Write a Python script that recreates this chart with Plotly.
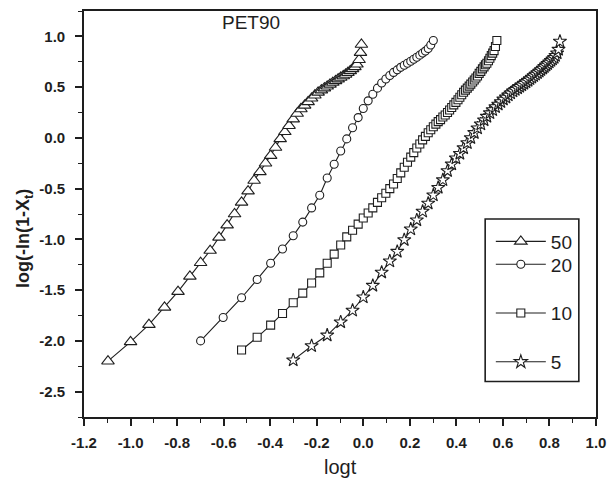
import plotly.graph_objects as go

# ---- data ----
x50 = [-1.097, -1.000, -0.921, -0.854, -0.796, -0.745, -0.699, -0.658, -0.620, -0.585,
       -0.553, -0.523, -0.495, -0.469, -0.444, -0.420, -0.398, -0.377, -0.357, -0.337,
       -0.319, -0.301, -0.284, -0.268, -0.252, -0.237, -0.222, -0.208, -0.194, -0.180,
       -0.167, -0.155, -0.143, -0.131, -0.119, -0.108, -0.097, -0.086, -0.076, -0.066,
       -0.056, -0.046, -0.036, -0.027, -0.018, -0.012, -0.008]
y50 = [-2.20, -2.01, -1.84, -1.67, -1.515, -1.365, -1.23, -1.11, -0.98, -0.86,
       -0.75, -0.635, -0.525, -0.42, -0.335, -0.25, -0.175, -0.095, -0.01, 0.06,
       0.12, 0.185, 0.24, 0.285, 0.32, 0.355, 0.39, 0.42, 0.448, 0.47,
       0.49, 0.508, 0.527, 0.545, 0.562, 0.579, 0.595, 0.61, 0.625, 0.642,
       0.66, 0.68, 0.70, 0.725, 0.77, 0.84, 0.92]

x20 = [-0.699, -0.602, -0.523, -0.456, -0.398, -0.347, -0.301, -0.260, -0.222, -0.187,
       -0.155, -0.125, -0.097, -0.071, -0.046, -0.022, 0.000, 0.021, 0.041, 0.061,
       0.079, 0.097, 0.114, 0.130, 0.146, 0.161, 0.176, 0.190, 0.204, 0.217,
       0.230, 0.243, 0.255, 0.267, 0.279, 0.290, 0.301]
y20 = [-2.00, -1.77, -1.575, -1.395, -1.235, -1.095, -0.965, -0.83, -0.69, -0.565,
       -0.395, -0.26, -0.13, -0.01, 0.10, 0.20, 0.29, 0.365, 0.43, 0.49,
       0.54, 0.58, 0.615, 0.645, 0.67, 0.695, 0.715, 0.735, 0.755, 0.775,
       0.795, 0.815, 0.835, 0.855, 0.88, 0.915, 0.96]

x10 = [-0.523, -0.456, -0.398, -0.347, -0.301, -0.260, -0.222, -0.187, -0.155, -0.125,
       -0.097, -0.071, -0.046, -0.022, 0.000, 0.021, 0.041, 0.061, 0.079, 0.097,
       0.114, 0.130, 0.146, 0.161, 0.176, 0.190, 0.204, 0.217, 0.230, 0.243,
       0.255, 0.267, 0.279, 0.290, 0.301, 0.312, 0.322, 0.332, 0.342, 0.352,
       0.362, 0.371, 0.380, 0.389, 0.398, 0.407, 0.415, 0.423, 0.431, 0.439,
       0.447, 0.455, 0.462, 0.470, 0.477, 0.484, 0.491, 0.498, 0.505, 0.512,
       0.519, 0.525, 0.531, 0.538, 0.544, 0.550, 0.556, 0.562, 0.568, 0.574]
y10 = [-2.09, -1.965, -1.845, -1.73, -1.625, -1.53, -1.43, -1.33, -1.235, -1.145,
       -1.055, -0.975, -0.91, -0.85, -0.79, -0.74, -0.69, -0.635, -0.59, -0.545,
       -0.50, -0.455, -0.40, -0.345, -0.29, -0.24, -0.19, -0.145, -0.10, -0.06,
       -0.02, 0.015, 0.05, 0.08, 0.11, 0.135, 0.16, 0.18, 0.205, 0.225,
       0.25, 0.275, 0.30, 0.325, 0.35, 0.375, 0.40, 0.425, 0.45, 0.47,
       0.49, 0.51, 0.53, 0.55, 0.57, 0.59, 0.61, 0.635, 0.655, 0.68,
       0.70, 0.72, 0.735, 0.76, 0.785, 0.81, 0.835, 0.86, 0.90, 0.96]

x5 = [-0.301, -0.222, -0.155, -0.097, -0.046, 0.000, 0.041, 0.079, 0.114, 0.146,
      0.176, 0.204, 0.230, 0.255, 0.279, 0.301, 0.322, 0.342, 0.362, 0.380,
      0.398, 0.415, 0.431, 0.447, 0.462, 0.477, 0.491, 0.505, 0.519, 0.531,
      0.544, 0.556, 0.568, 0.580, 0.591, 0.602, 0.613, 0.623, 0.633, 0.643,
      0.653, 0.663, 0.672, 0.681, 0.690, 0.699, 0.708, 0.716, 0.724, 0.732,
      0.740, 0.748, 0.756, 0.763, 0.771, 0.778, 0.785, 0.792, 0.799, 0.806,
      0.813, 0.820, 0.826, 0.833, 0.839, 0.845]
y5 = [-2.19, -2.05, -1.945, -1.815, -1.70, -1.57, -1.455, -1.325, -1.215, -1.12,
      -1.005, -0.90, -0.81, -0.725, -0.645, -0.565, -0.49, -0.415, -0.325, -0.26,
      -0.20, -0.155, -0.10, -0.05, 0.00, 0.05, 0.095, 0.135, 0.175, 0.21,
      0.245, 0.275, 0.305, 0.33, 0.355, 0.38, 0.40, 0.42, 0.44, 0.46,
      0.475, 0.49, 0.505, 0.52, 0.535, 0.55, 0.565, 0.58, 0.595, 0.61,
      0.625, 0.64, 0.655, 0.67, 0.685, 0.70, 0.715, 0.73, 0.745, 0.76,
      0.775, 0.79, 0.81, 0.835, 0.87, 0.95]

series_names = ["50", "20", "10", "5"]
x_tick_vals = [-1.2, -1.0, -0.8, -0.6, -0.4, -0.2, 0.0, 0.2, 0.4, 0.6, 0.8, 1.0]
x_tick_text = ["-1.2", "-1.0", "-0.8", "-0.6", "-0.4", "-0.2", "0.0", "0.2", "0.4", "0.6", "0.8", "1.0"]
y_tick_vals = [-2.5, -2.0, -1.5, -1.0, -0.5, 0.0, 0.5, 1.0]
y_tick_text = ["-2.5", "-2.0", "-1.5", "-1.0", "-0.5", "0.0", "0.5", "1.0"]

# ---- style ----
INK = "#1e1e1e"
FONT = "Arial, Liberation Sans, sans-serif"

styles = [
    dict(symbol="triangle-up", size=11),
    dict(symbol="circle", size=8),
    dict(symbol="square", size=8),
    dict(symbol="star", size=10),
]
legend_ids = ["legend", "legend2", "legend3", "legend4"]
xs = [x50, x20, x10, x5]
ys = [y50, y20, y10, y5]

fig = go.Figure()
for name, x, y, st, lg in zip(series_names, xs, ys, styles, legend_ids):
    fig.add_trace(go.Scatter(
        x=x, y=y, name=name, mode="lines+markers",
        line=dict(color=INK, width=1.1),
        marker=dict(symbol=st["symbol"], size=st["size"], color="white",
                    line=dict(color=INK, width=1.1)),
        legend=lg,
    ))

# plot area in px: x 84..600, y 9..417
def py2paper(py):
    return (417.3 - py) / 408.0

def px2paper(px):
    return (px - 84.0) / 516.0

legend_rows = [241, 264, 313, 362]
legend_common = dict(xanchor="left", yanchor="middle", bgcolor="rgba(0,0,0,0)",
                     borderwidth=0, itemwidth=50,
                     font=dict(family=FONT, size=19, color=INK))
layout_legends = {}
for lg, row in zip(legend_ids, legend_rows):
    layout_legends[lg] = dict(x=px2paper(494), y=py2paper(row), **legend_common)

axis_common = dict(
    showgrid=False, zeroline=False, showline=True, linecolor=INK, linewidth=1.6,
    mirror=True, ticks="outside", ticklen=7, tickwidth=1.5, tickcolor=INK,
    tickfont=dict(family=FONT, size=15, color=INK, weight="bold"),
)

fig.update_layout(
    width=615, height=481,
    margin=dict(l=84, r=15, t=9, b=64),
    paper_bgcolor="white", plot_bgcolor="white",
    showlegend=True,
    xaxis=dict(range=[-1.2, 1.0], tickvals=x_tick_vals, ticktext=x_tick_text,
               minor=dict(dtick=0.1, tick0=-1.2, ticks="outside", ticklen=4, tickwidth=1.2, tickcolor=INK),
               ticklabelstandoff=4, **axis_common),
    yaxis=dict(range=[-2.75, 1.25], tickvals=y_tick_vals, ticktext=y_tick_text,
               minor=dict(dtick=0.25, tick0=-2.75, ticks="outside", ticklen=4, tickwidth=1.2, tickcolor=INK),
               ticklabelstandoff=7, **axis_common),
    **layout_legends,
)

fig.add_shape(type="rect", xref="paper", yref="paper",
              x0=px2paper(488.3), x1=px2paper(582.7), y0=py2paper(381.7), y1=py2paper(218.3),
              line=dict(color=INK, width=1.6), fillcolor="rgba(0,0,0,0)")

fig.add_annotation(text="PET90", xref="paper", yref="paper", x=px2paper(221), y=py2paper(21),
                   xanchor="left", yanchor="middle", showarrow=False,
                   font=dict(family=FONT, size=19, color=INK))
fig.add_annotation(text="logt", xref="paper", yref="paper", x=0.5, y=py2paper(468),
                   xanchor="center", yanchor="middle", showarrow=False,
                   font=dict(family=FONT, size=20, color=INK))
fig.add_annotation(text="<b>log(-ln(1-X<sub>t</sub>)</b>", xref="paper", yref="paper",
                   x=px2paper(24), y=py2paper(238), textangle=-90,
                   xanchor="center", yanchor="middle", showarrow=False,
                   font=dict(family=FONT, size=18, color=INK))

fig.write_html("out.html")
